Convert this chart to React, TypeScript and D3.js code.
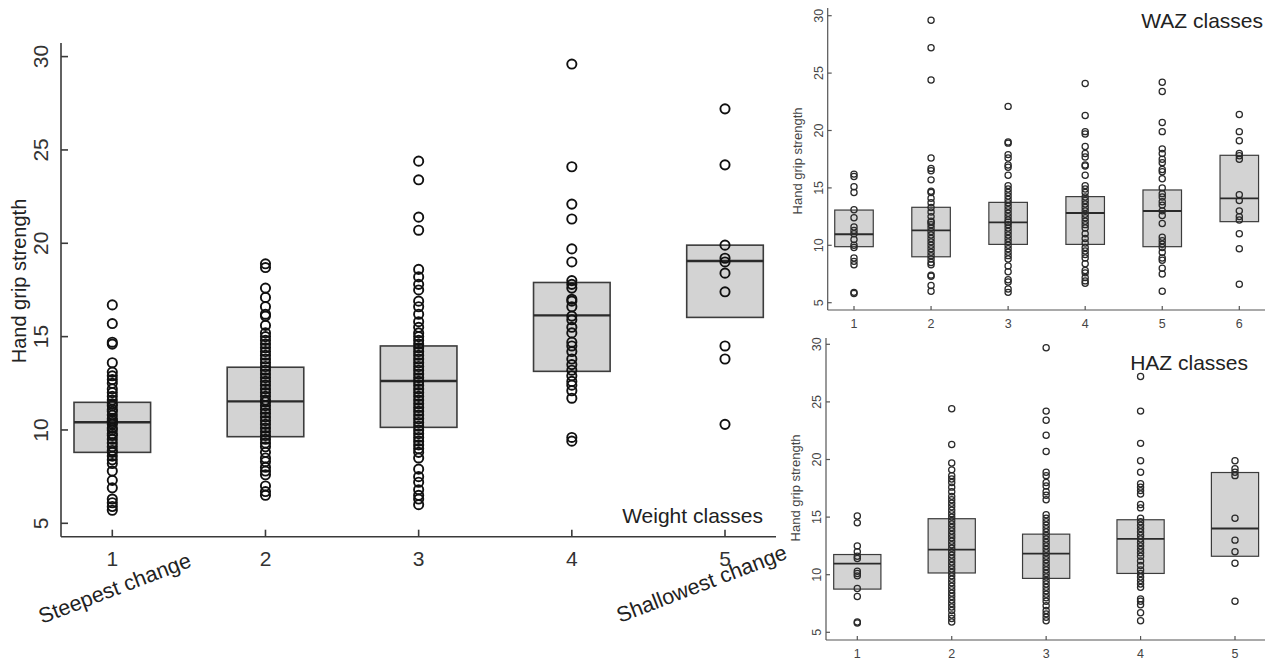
import * as d3 from "d3";

// Weight classes (main panel)
const weightClasses = ["1", "2", "3", "4", "5"];
const weightQ1 = [8.8, 9.64, 10.14, 13.14, 16.03];
const weightMedian = [10.41, 11.53, 12.62, 16.14, 19.05];
const weightQ3 = [11.48, 13.36, 14.5, 17.9, 19.9];
const weightG1 = [16.7, 15.7, 14.7, 14.6, 13.6, 13.1, 12.9, 12.7, 12.5, 12.2, 12.0, 11.8, 11.6, 11.4, 11.3, 11.1, 11.0, 10.8, 10.6, 10.5, 10.4, 10.3, 10.1, 10.0, 9.8, 9.7, 9.5, 9.3, 9.1, 8.9, 8.8, 8.6, 8.4, 8.2, 7.8, 7.3, 6.9, 6.3, 6.1, 5.9, 5.7];
const weightG2 = [18.9, 18.7, 17.6, 17.1, 16.6, 16.2, 16.1, 15.6, 15.2, 15.0, 14.8, 14.6, 14.4, 14.2, 14.0, 13.8, 13.6, 13.4, 13.2, 13.0, 12.8, 12.6, 12.4, 12.2, 12.0, 11.8, 11.6, 11.5, 11.3, 11.1, 10.9, 10.7, 10.5, 10.3, 10.1, 9.9, 9.7, 9.5, 9.3, 9.1, 8.8, 8.5, 8.3, 8.0, 7.8, 7.6, 7.0, 6.7, 6.5];
const weightG3 = [24.4, 23.4, 21.4, 20.7, 18.6, 18.2, 17.8, 17.5, 16.9, 16.6, 16.2, 15.8, 15.5, 15.2, 15.0, 14.8, 14.6, 14.4, 14.2, 14.0, 13.8, 13.6, 13.4, 13.2, 13.0, 12.8, 12.6, 12.4, 12.2, 12.0, 11.8, 11.6, 11.4, 11.2, 11.0, 10.8, 10.6, 10.4, 10.2, 10.0, 9.8, 9.6, 9.4, 9.2, 9.0, 8.8, 8.5, 7.9, 7.5, 7.2, 6.8, 6.5, 6.3, 6.0];
const weightG4 = [29.6, 24.1, 22.1, 21.3, 19.7, 19.0, 18.0, 17.8, 17.6, 17.0, 16.9, 16.6, 16.1, 15.9, 15.5, 15.2, 14.7, 14.5, 14.2, 13.8, 13.5, 13.2, 12.9, 12.6, 12.4, 12.1, 11.7, 9.6, 9.4];
const weightG5 = [27.2, 24.2, 19.9, 19.2, 19.0, 18.4, 17.4, 14.5, 13.8, 10.3];

// WAZ classes (top right)
const wazClasses = ["1", "2", "3", "4", "5", "6"];
const wazQ1 = [9.88, 9.0, 10.08, 10.08, 9.88, 12.06];
const wazMedian = [10.96, 11.3, 12.0, 12.81, 12.99, 14.09];
const wazQ3 = [13.07, 13.31, 13.74, 14.24, 14.82, 17.84];
const wazG1 = [16.2, 16.0, 15.1, 14.6, 13.1, 12.4, 11.6, 11.3, 11.0, 10.5, 10.0, 9.8, 8.9, 8.6, 8.3, 5.9, 5.8];
const wazG2 = [29.6, 27.2, 24.4, 17.6, 16.7, 16.5, 15.7, 14.7, 14.6, 14.1, 13.7, 13.3, 12.9, 12.5, 12.1, 12.0, 11.8, 11.5, 11.2, 10.9, 10.6, 10.3, 10.0, 9.7, 9.4, 9.1, 8.8, 8.5, 8.3, 7.4, 7.3, 6.5, 6.0];
const wazG3 = [22.1, 19.0, 18.9, 17.9, 17.6, 17.0, 16.8, 16.1, 15.2, 14.9, 14.6, 14.3, 14.0, 13.7, 13.4, 13.1, 12.8, 12.5, 12.2, 12.0, 11.8, 11.5, 11.2, 10.9, 10.6, 10.3, 10.0, 9.7, 9.4, 9.1, 8.8, 8.2, 7.7, 7.0, 6.8, 6.2, 5.9];
const wazG4 = [24.1, 21.3, 19.9, 19.7, 18.6, 18.0, 17.7, 17.0, 16.9, 16.1, 15.2, 14.9, 14.6, 14.2, 13.9, 13.6, 13.3, 13.0, 12.7, 12.4, 12.1, 11.8, 11.5, 11.0, 10.6, 10.2, 9.8, 9.5, 9.2, 8.9, 8.4, 7.8, 7.6, 7.2, 6.9, 6.7];
const wazG5 = [24.2, 23.4, 20.7, 19.9, 18.4, 18.0, 17.5, 17.2, 16.6, 16.4, 15.8, 15.0, 14.5, 14.2, 13.8, 13.5, 13.0, 12.6, 11.9, 10.7, 10.4, 10.1, 9.8, 9.4, 8.9, 8.7, 8.0, 7.5, 6.0];
const wazG6 = [21.4, 19.9, 19.1, 18.0, 17.8, 17.5, 14.4, 13.9, 13.0, 12.5, 12.2, 11.0, 9.7, 6.6];

// HAZ classes (bottom right)
const hazClasses = ["1", "2", "3", "4", "5"];
const hazQ1 = [8.75, 10.15, 9.68, 10.11, 11.6];
const hazMedian = [10.96, 12.18, 11.83, 13.11, 14.01];
const hazQ3 = [11.75, 14.86, 13.52, 14.77, 18.87];
const hazG1 = [15.1, 14.5, 12.5, 12.0, 11.6, 11.4, 10.3, 10.1, 9.9, 8.8, 8.1, 5.9, 5.8];
const hazG2 = [24.4, 21.3, 19.7, 19.1, 18.6, 18.3, 18.0, 17.6, 17.2, 16.8, 16.5, 16.2, 15.9, 15.6, 15.3, 15.0, 14.7, 14.4, 14.1, 13.8, 13.5, 13.2, 12.9, 12.6, 12.3, 12.0, 11.7, 11.4, 11.1, 10.8, 10.5, 10.2, 9.9, 9.6, 9.3, 9.0, 8.7, 8.4, 8.1, 7.8, 7.5, 7.2, 6.9, 6.5, 6.2, 5.9];
const hazG3 = [29.7, 24.2, 23.4, 22.1, 20.7, 18.9, 18.6, 18.0, 17.7, 17.2, 16.9, 16.5, 15.2, 14.9, 14.6, 14.3, 14.0, 13.7, 13.4, 13.1, 12.8, 12.5, 12.2, 11.9, 11.6, 11.3, 11.0, 10.7, 10.4, 10.1, 9.8, 9.5, 9.2, 8.9, 8.6, 8.3, 8.0, 7.7, 7.3, 6.9, 6.6, 6.3, 6.0];
const hazG4 = [27.2, 24.2, 21.4, 19.9, 18.9, 17.9, 17.6, 17.3, 17.0, 16.1, 15.8, 14.9, 14.6, 14.3, 14.0, 13.7, 13.4, 13.1, 12.8, 12.5, 12.2, 11.9, 11.6, 11.2, 10.8, 10.4, 10.1, 9.8, 9.5, 9.2, 8.9, 7.9, 7.7, 7.4, 6.7, 6.0];
const hazG5 = [19.9, 19.2, 18.9, 18.6, 14.9, 13.0, 12.0, 11.0, 7.7];

const yTicks = [5, 10, 15, 20, 25, 30];

const FONT = "'Liberation Sans', Arial, Helvetica, sans-serif";

interface PanelProps {
  classes: string[];
  q1: number[];
  median: number[];
  q3: number[];
  groups: number[][];
  xFirst: number; // pixel of class 1
  xLast: number; // pixel of last class
  y5: number;
  y30: number;
  axisX: number;
  axisY: number;
  top: number;
  right: number;
  title: string;
  titleX: number;
  titleY: number;
  big?: boolean;
  yLabelX: number;
  yLabelY: number;
}

const Panel = (p: PanelProps) => {
  const n = p.classes.length;
  const x = d3.scaleLinear().domain([1, n]).range([p.xFirst, p.xLast]);
  const y = d3.scaleLinear().domain([5, 30]).range([p.y5, p.y30]);
  const boxW = (x(2) - x(1)) * 0.5;

  const big = !!p.big;
  const tickLen = big ? 7 : 4;
  const tickFs = big ? 21 : 12.5;
  const axisColor = big ? "#3a3a3a" : "#555";
  const axisW = big ? 1.6 : 1.2;
  const r = big ? 4.6 : 3.1;
  const ptStroke = big ? 1.9 : 1.25;
  const ptColor = big ? "#111" : "#2a2a2a";

  return (
    <g>
      {/* boxes */}
      {p.classes.map((c, i) => (
        <g key={"b" + c}>
          <rect
            x={x(i + 1) - boxW / 2}
            y={y(p.q3[i])}
            width={boxW}
            height={y(p.q1[i]) - y(p.q3[i])}
            fill="#d3d3d3"
            stroke="#3c3c3c"
            strokeWidth={big ? 1.6 : 1.2}
          />
          <line
            x1={x(i + 1) - boxW / 2}
            x2={x(i + 1) + boxW / 2}
            y1={y(p.median[i])}
            y2={y(p.median[i])}
            stroke="#2a2a2a"
            strokeWidth={big ? 2.4 : 1.9}
          />
        </g>
      ))}
      {/* points */}
      {p.groups.map((g, i) =>
        g.map((v, j) => (
          <circle
            key={`p${i}-${j}`}
            cx={x(i + 1)}
            cy={y(v)}
            r={r}
            fill="none"
            stroke={ptColor}
            strokeWidth={ptStroke}
          />
        ))
      )}
      {/* axes */}
      <line x1={p.axisX} x2={p.axisX} y1={p.top} y2={p.axisY} stroke={axisColor} strokeWidth={axisW} />
      <line x1={p.axisX} x2={p.right} y1={p.axisY} y2={p.axisY} stroke={axisColor} strokeWidth={axisW} />
      {yTicks.map((t) => (
        <g key={"yt" + t}>
          <line x1={p.axisX} x2={p.axisX + tickLen} y1={y(t)} y2={y(t)} stroke={axisColor} strokeWidth={axisW} />
          <text
            transform={`translate(${p.axisX - (big ? 13 : 5)},${y(t)}) rotate(-90)`}
            textAnchor="middle"
            fontSize={big ? 21 : tickFs}
            fill={big ? "#333" : "#444"}
            fontFamily={FONT}
          >
            {t}
          </text>
        </g>
      ))}
      {p.classes.map((c, i) => (
        <g key={"xt" + c}>
          <line x1={x(i + 1)} x2={x(i + 1)} y1={p.axisY} y2={p.axisY - tickLen} stroke={axisColor} strokeWidth={axisW} />
          <text
            x={x(i + 1)}
            y={p.axisY + (big ? 29 : 18)}
            textAnchor="middle"
            fontSize={tickFs}
            fill={big ? "#333" : "#444"}
            fontFamily={FONT}
          >
            {c}
          </text>
        </g>
      ))}
      <text
        transform={`translate(${p.yLabelX},${p.yLabelY}) rotate(-90)`}
        textAnchor="middle"
        fontSize={big ? 20 : 13}
        fill={big ? "#222" : "#444"}
        fontFamily={FONT}
      >
        Hand grip strength
      </text>
      <text x={p.titleX} y={p.titleY} textAnchor="end" fontSize={21} fill="#222" fontFamily={FONT}>
        {p.title}
      </text>
    </g>
  );
};

const App = () => {
  return (
    <svg
      width={1266}
      height={663}
      style={{ position: "absolute", left: 0, top: 0, background: "#fff" }}
    >
      <rect width={1266} height={663} fill="#fff" />
      <Panel
        classes={weightClasses}
        q1={weightQ1}
        median={weightMedian}
        q3={weightQ3}
        groups={[weightG1, weightG2, weightG3, weightG4, weightG5]}
        xFirst={112.3}
        xLast={725}
        y5={523.3}
        y30={56.6}
        axisX={61}
        axisY={536.7}
        top={43}
        right={776}
        title="Weight classes"
        titleX={763}
        titleY={523}
        big
        yLabelX={26}
        yLabelY={281}
      />
      <Panel
        classes={wazClasses}
        q1={wazQ1}
        median={wazMedian}
        q3={wazQ3}
        groups={[wazG1, wazG2, wazG3, wazG4, wazG5, wazG6]}
        xFirst={854}
        xLast={1239.3}
        y5={302.7}
        y30={15.7}
        axisX={827.7}
        axisY={310}
        top={8}
        right={1265}
        title="WAZ classes"
        titleX={1263}
        titleY={28}
        yLabelX={802}
        yLabelY={161}
      />
      <Panel
        classes={hazClasses}
        q1={hazQ1}
        median={hazMedian}
        q3={hazQ3}
        groups={[hazG1, hazG2, hazG3, hazG4, hazG5]}
        xFirst={857.3}
        xLast={1235}
        y5={632.3}
        y30={344.3}
        axisX={826}
        axisY={640}
        top={338}
        right={1265}
        title="HAZ classes"
        titleX={1248}
        titleY={370}
        yLabelX={800}
        yLabelY={488}
      />
      <text
        transform="translate(42,624) rotate(-21)"
        fontSize={21.5}
        fill="#222"
        fontFamily={FONT}
      >
        Steepest change
      </text>
      <text
        transform="translate(620,623) rotate(-21)"
        fontSize={21.5}
        fill="#222"
        fontFamily={FONT}
      >
        Shallowest change
      </text>
    </svg>
  );
};

export default App;
